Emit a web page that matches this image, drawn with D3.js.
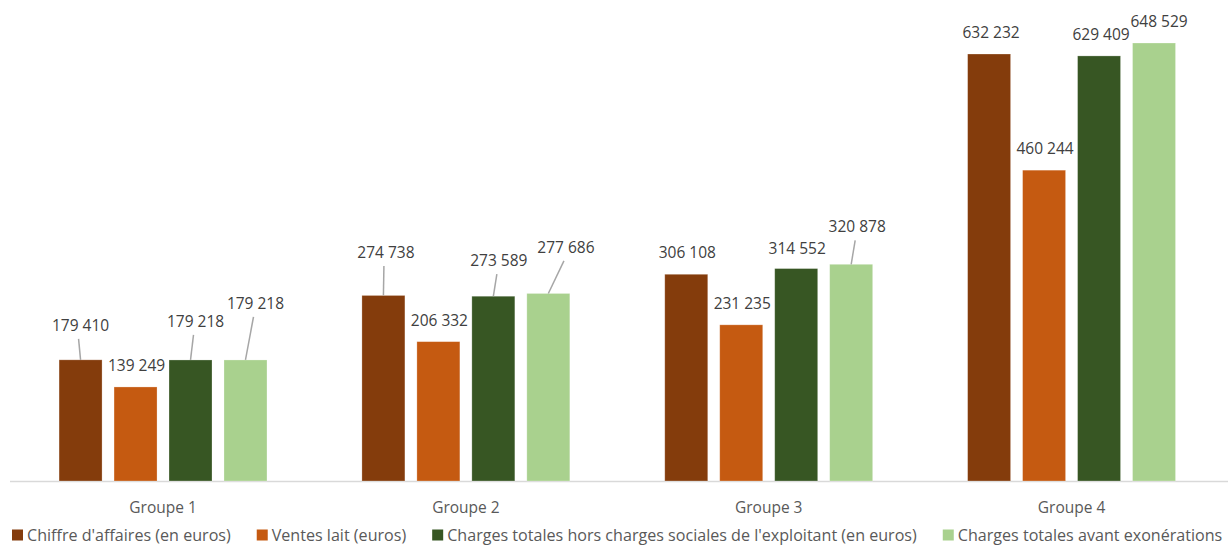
<!DOCTYPE html>
<html>
<head>
<meta charset="utf-8">
<script src="https://cdn.jsdelivr.net/npm/d3@7"></script>
<style>
  html, body { margin: 0; padding: 0; background: #fff; }
  svg { display: block; }
  text { font-family: "Open Sans", "Noto Sans", sans-serif; fill: #404040; }
</style>
</head>
<body>
<svg id="chart" width="1228" height="545"></svg>
<script>
// ---- Data ----
const groups = ["Groupe 1", "Groupe 2", "Groupe 3", "Groupe 4"];
const seriesNames = [
  "Chiffre d'affaires (en euros)",
  "Ventes lait (euros)",
  "Charges totales hors charges sociales de l'exploitant (en euros)",
  "Charges totales avant exonérations"
];
const chiffreAffaires = [179410, 274738, 306108, 632232];
const ventesLait = [139249, 206332, 231235, 460244];
const chargesHorsSociales = [179218, 273589, 314552, 629409];
const chargesAvantExo = [179218, 277686, 320878, 648529];
const seriesValues = [chiffreAffaires, ventesLait, chargesHorsSociales, chargesAvantExo];

// ---- Style / layout ----
const colors = ["#843C0C", "#C55A11", "#375623", "#A9D18E"];
// label displacement (px) from default position [dx, dy], per group per series
const labelShift = [
  [[0, -13], [1, 0], [5, -17], [10, -35]],
  [[2.5, -21.5], [1, 0], [5.5, -14], [17.6, -24.6]],
  [[1, 0], [1, 0], [1, 1], [6, -16]],
  [[2, 0], [1, 0], [2, 0], [5, 0]]
];

const W = 1228, H = 545;
const svg = d3.select("#chart");
const baseY = 481;

const x0 = d3.scaleBand().domain(groups).range([11.6, 1223]).paddingInner(0.3135).paddingOuter(0.15675);
const x1 = d3.scaleBand().domain(d3.range(4)).range([0, x0.bandwidth()]).paddingInner(0.218);
const y = d3.scaleLinear().domain([0, 700000]).range([baseY, baseY - 700000 * 438 / 648529]);

const fmt = v => d3.format(",")(v).replace(/,/g, " ");

// axis line
const xAxis = d3.axisBottom(x0).tickSize(0).tickPadding(0);
const gx = svg.append("g").attr("transform", `translate(0,${baseY + 0.5})`).call(xAxis);
gx.select(".domain").attr("d", `M10,0H${W}`).attr("stroke", "#D9D9D9").attr("stroke-width", 1.5);
gx.selectAll(".tick text")
  .attr("dy", 0).attr("y", 31.5)
  .style("font-family", "'Open Sans', sans-serif")
  .style("font-size", "15.5px").style("fill", "#595959");

// data rows
const rows = [];
groups.forEach((g, gi) => {
  seriesValues.forEach((vals, si) => {
    rows.push({ g, gi, si, v: vals[gi] });
  });
});

const barG = svg.append("g");
barG.selectAll("rect").data(rows).enter().append("rect")
  .attr("x", d => x0(d.g) + x1(d.si))
  .attr("y", d => y(d.v))
  .attr("width", x1.bandwidth())
  .attr("height", d => y(0) - y(d.v))
  .attr("fill", d => colors[d.si])
  .attr("stroke", "#ffffff").attr("stroke-opacity", 0.35).attr("stroke-width", 0.75);

// labels
const lab = svg.append("g");
rows.forEach(d => {
  const cx = x0(d.g) + x1(d.si) + x1.bandwidth() / 2;
  const top = y(d.v);
  const [dx, dy] = labelShift[d.gi][d.si];
  const lx = cx + dx, ly = top - 16 + dy;
  if (dy < -5) {
    lab.append("line")
      .attr("x1", lx - 2).attr("y1", ly + 8)
      .attr("x2", cx).attr("y2", top)
      .attr("stroke", "#A6A6A6").attr("stroke-width", 1.5);
  }
  lab.append("text")
    .attr("x", lx).attr("y", ly)
    .attr("text-anchor", "middle")
    .style("font-size", "15.5px")
    .text(fmt(d.v));
});

// legend
const leg = svg.append("g");
let lx = 12;
seriesNames.forEach((name, i) => {
  leg.append("rect").attr("x", lx).attr("y", 529.5).attr("width", 11).attr("height", 11).attr("fill", colors[i]);
  const t = leg.append("text").attr("x", lx + 15).attr("y", 540.5)
    .style("font-size", "16.1px").style("fill", "#595959").text(name);
  lx += 15 + t.node().getComputedTextLength() + 26;
});
</script>
</body>
</html>
